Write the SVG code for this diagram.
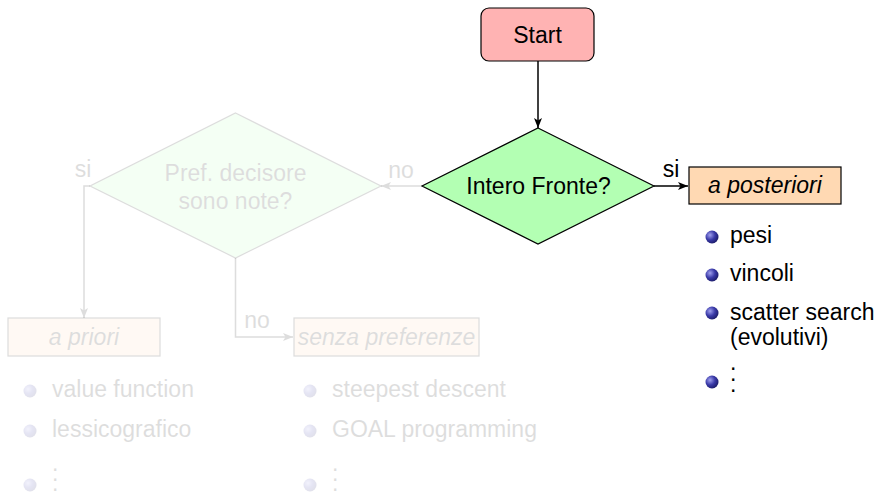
<svg xmlns="http://www.w3.org/2000/svg" width="875" height="495" viewBox="0 0 875 495">
<defs>
<radialGradient id="ball" cx="0.35" cy="0.35" r="0.75">
<stop offset="0" stop-color="#a0a0ee"/>
<stop offset="0.5" stop-color="#3a3aa8"/>
<stop offset="1" stop-color="#16165e"/>
</radialGradient>
<marker id="arr" viewBox="0 0 10 8" refX="10" refY="4" markerWidth="10" markerHeight="8" markerUnits="userSpaceOnUse" orient="auto">
<path d="M0,0 L10,4 L0,8 L2.5,4 z" fill="#000"/>
</marker>
</defs>
<style>
text{font-family:"Liberation Sans",Arial,sans-serif;font-size:23px;fill:#000}
.c{text-anchor:middle}
.it{font-style:italic}
.faint{opacity:0.13}
.line{fill:none;stroke:#000;stroke-width:1.5}
.node{stroke:#000;stroke-width:1.2}
</style>

<g id="connectors">
<path class="line" d="M538,61 L538,128" marker-end="url(#arr)"/>
<path class="line" d="M654,186 L688,186" marker-end="url(#arr)"/>
<text x="671" y="177" class="c">si</text>
<g class="faint">
<path class="line" d="M422,186 L381,186" marker-end="url(#arr)"/>
<text x="401" y="178" class="c">no</text>
<path class="line" d="M90,186 L84,186 L84,318" marker-end="url(#arr)"/>
<text x="83" y="177" class="c">si</text>
<path class="line" d="M235.5,258 L235.5,337 L293,337" marker-end="url(#arr)"/>
<text x="257" y="328" class="c">no</text>
</g>
</g>

<g id="start">
<rect class="node" x="481" y="8" width="113" height="53" rx="8" fill="#ffb3b3"/>
<text x="537.5" y="43" class="c">Start</text>
</g>

<g id="intero">
<polygon class="node" points="538,128 654,186 538,244 422,186" fill="#b3ffb3"/>
<text x="538.5" y="194" class="c">Intero Fronte?</text>
</g>

<g id="posteriori">
<rect class="node" x="689" y="167" width="152" height="37" fill="#ffd9b3"/>
<text x="765" y="193" class="c it">a posteriori</text>
</g>

<g id="posteriori-list">
<circle cx="712" cy="237" r="6.5" fill="url(#ball)"/>
<text x="730" y="243">pesi</text>
<circle cx="712" cy="275" r="6.5" fill="url(#ball)"/>
<text x="730" y="281">vincoli</text>
<circle cx="712" cy="313" r="6.5" fill="url(#ball)"/>
<text x="730" y="320">scatter search</text>
<text x="730" y="345">(evolutivi)</text>
<circle cx="712" cy="382" r="6.5" fill="url(#ball)"/>
<text x="730" y="370">.<tspan x="730" y="381">.</tspan><tspan x="730" y="392">.</tspan></text>
</g>

<g id="pref" class="faint">
<polygon class="node" points="235.5,113 381,186 235.5,258 90,186" fill="#b3ffb3"/>
<text x="235.5" y="181" class="c">Pref. decisore</text>
<text x="235.5" y="209" class="c">sono note?</text>
</g>

<g id="priori" class="faint">
<rect class="node" x="8" y="318" width="152" height="38" fill="#ffd9b3"/>
<text x="84" y="345" class="c it">a priori</text>
</g>

<g id="senza" class="faint">
<rect class="node" x="294" y="318" width="185" height="38" fill="#ffd9b3"/>
<text x="386.5" y="345" class="c it">senza preferenze</text>
</g>

<g id="priori-list" class="faint">
<circle cx="30" cy="391" r="6.5" fill="url(#ball)"/>
<text x="52" y="397">value function</text>
<circle cx="30" cy="431" r="6.5" fill="url(#ball)"/>
<text x="52" y="437">lessicografico</text>
<circle cx="30" cy="485" r="6.5" fill="url(#ball)"/>
<text x="52" y="471">.<tspan x="52" y="481">.</tspan><tspan x="52" y="491">.</tspan></text>
</g>

<g id="senza-list" class="faint">
<circle cx="310" cy="391" r="6.5" fill="url(#ball)"/>
<text x="332" y="397">steepest descent</text>
<circle cx="310" cy="431" r="6.5" fill="url(#ball)"/>
<text x="332" y="437">GOAL programming</text>
<circle cx="310" cy="485" r="6.5" fill="url(#ball)"/>
<text x="332" y="471">.<tspan x="332" y="481">.</tspan><tspan x="332" y="491">.</tspan></text>
</g>
</svg>
